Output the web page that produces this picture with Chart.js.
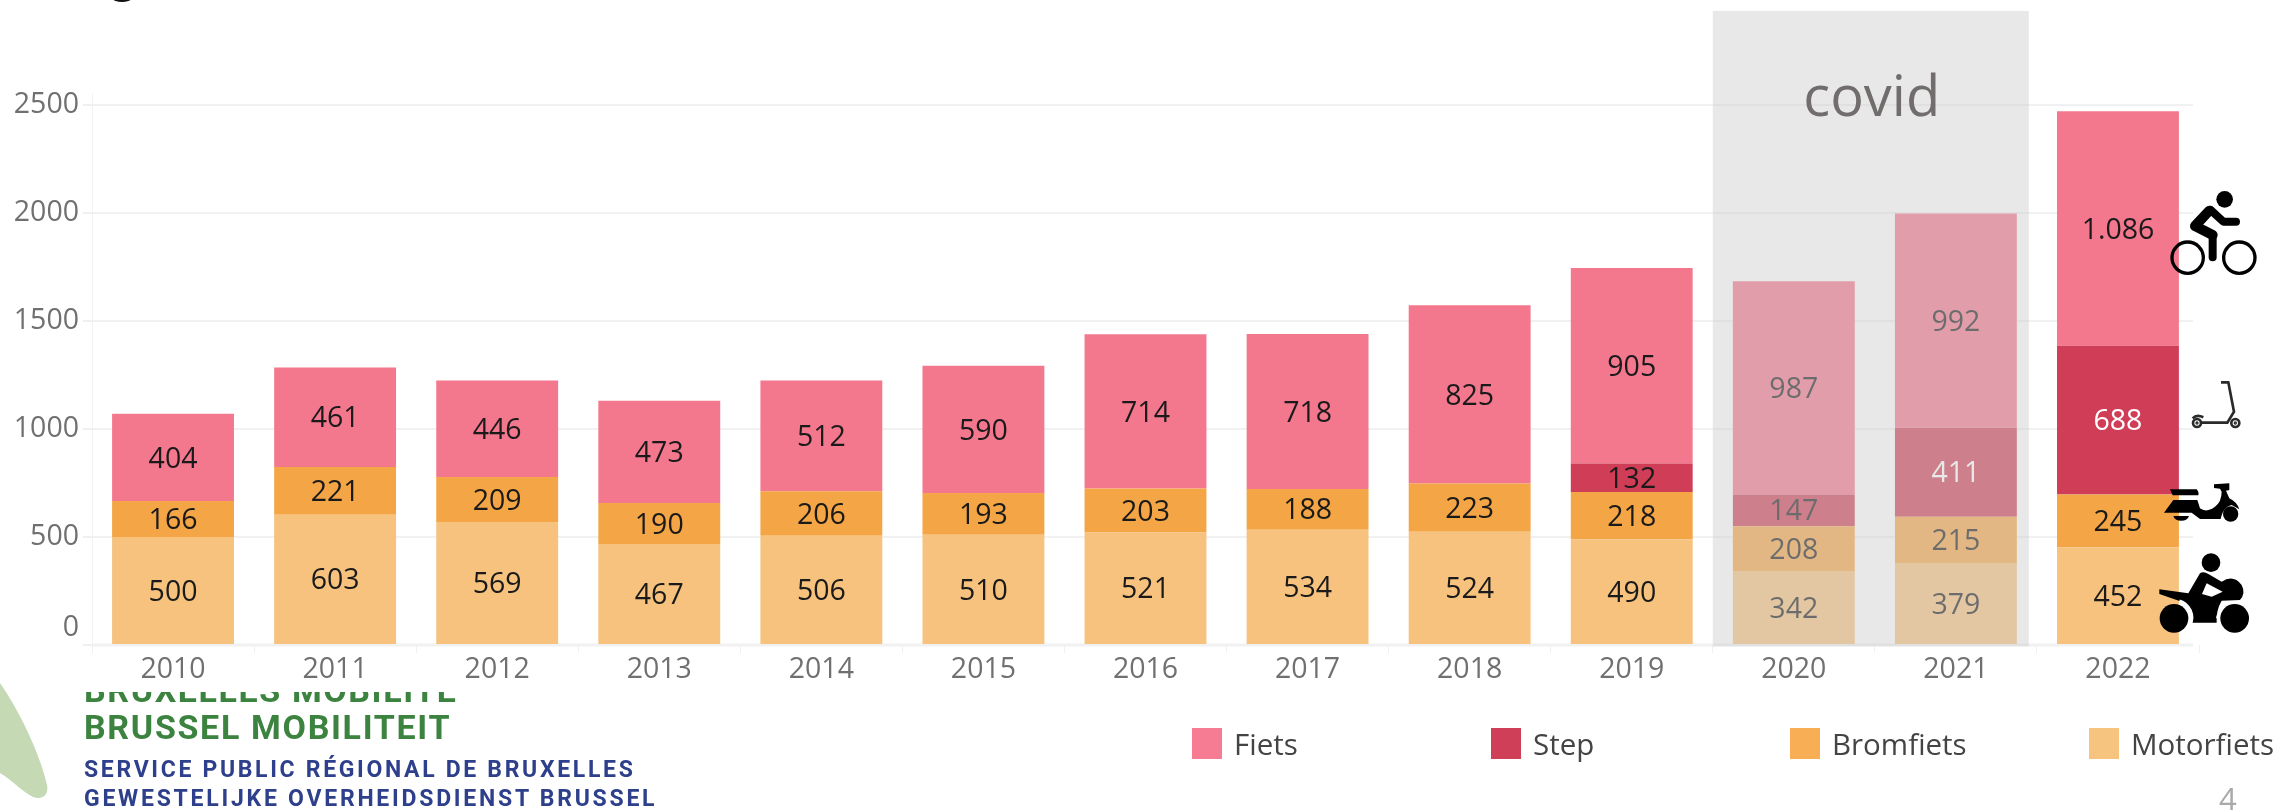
<!DOCTYPE html>
<html><head><meta charset="utf-8">
<script src="https://cdn.jsdelivr.net/npm/chart.js@4"></script>
<style>
html,body{margin:0;padding:0;background:#fff;width:2291px;height:810px;overflow:hidden;position:relative;font-family:"Open Sans",sans-serif}
canvas{position:absolute;left:0;top:0}
svg{position:absolute;left:0;top:0;pointer-events:none}
.t{position:absolute;white-space:nowrap;line-height:1}
.leg{position:absolute;top:728px;height:31px;display:flex;align-items:center}
.leg i{display:block;width:30px;height:31px;margin-right:12px}
.leg span{font-size:29.5px;color:#444;white-space:nowrap}
#clipg{position:absolute;left:80px;top:692px;width:400px;height:11px;overflow:hidden}
</style></head><body>
<div style="position:absolute;left:0;top:0;width:2291px;height:810px"><canvas id="c" width="2291" height="810"></canvas></div>
<svg width="2291" height="810" viewBox="0 0 2291 810">
  <ellipse cx="122" cy="-1" rx="9" ry="3" fill="#111"/>
  <path d="M0 683 C22 715 40 755 47 785 C49 796 42 800 33 797 C20 790 12 780 0 773 Z" fill="#c6d9b5"/>
  <g transform="translate(2140,170) scale(.3333)">
    <circle cx="254" cy="88" r="25"/>
    <circle cx="143" cy="263" r="47" fill="none" stroke="#000" stroke-width="10"/>
    <circle cx="298" cy="263" r="47" fill="none" stroke="#000" stroke-width="10"/>
    <path d="M208 122 L165 168 L218 195" fill="none" stroke="#000" stroke-width="30" stroke-linecap="round" stroke-linejoin="round"/>
    <path d="M218 195 V262" stroke="#000" stroke-width="24" stroke-linecap="round"/>
    <path d="M212 120 L250 155 H288" fill="none" stroke="#000" stroke-width="24" stroke-linecap="round" stroke-linejoin="round"/>
    <g fill="none" stroke="#2a2a2a">
      <circle cx="171" cy="759" r="12" stroke-width="8"/><circle cx="171" cy="759" r="3" stroke-width="4"/>
      <circle cx="286" cy="759" r="12" stroke-width="8"/><circle cx="286" cy="759" r="3" stroke-width="4"/>
      <path d="M185 758 H262 L282 725 L265 637 M243 637 H268 M158 745 Q170 732 190 742" stroke-width="8"/>
    </g>
  </g>
  <g transform="translate(2140,450) scale(.3333)">
    <path d="M90 118 H170 Q178 128 175 136 H98 Z"/>
    <path d="M72 188 L100 150 H172 L180 175 Q200 190 225 170 Q245 155 245 125 L240 116 L222 114 V103 L268 100 V120 L258 122 L268 145 Q290 155 298 178 L275 165 Q250 170 242 207 H180 L155 188 Z"/>
    <circle cx="272" cy="192" r="23"/>
    <path d="M100 198 H147 A24 18 0 0 1 100 198 Z"/>
    <circle cx="213" cy="338" r="28"/>
    <path d="M58 418 L145 430 L180 370 Q190 362 205 372 L245 395 Q280 372 305 405 Q318 430 300 450 L245 452 Q228 480 230 518 H155 Q158 480 125 455 L58 432 Z"/>
    <path d="M200 400 L248 425 L215 440 L186 432 Z" fill="#fff"/>
    <path d="M118 453 A52 52 0 0 1 150 525" fill="none" stroke="#fff" stroke-width="10"/>
    <path d="M233 505 A52 52 0 0 1 335 505" fill="none" stroke="#fff" stroke-width="10"/>
    <circle cx="102" cy="505" r="43"/>
    <circle cx="284" cy="505" r="43"/>
  </g>
</svg>
<div id="clipg"><div class="t" style="left:4px;top:-19px;font:700 34px Roboto;color:#3c8340;letter-spacing:1.6px;line-height:1">BRUXELLES MOBILITE</div></div>
<div class="t" style="left:84px;top:710px;font:700 34px Roboto;color:#3c8340;letter-spacing:1.67px;line-height:1">BRUSSEL MOBILITEIT</div>
<div class="t" style="left:84px;top:758px;font:700 23px Roboto;color:#2e408c;letter-spacing:2.67px;line-height:1">SERVICE PUBLIC RÉGIONAL DE BRUXELLES</div>
<div class="t" style="left:84px;top:787px;font:700 23px Roboto;color:#2e408c;letter-spacing:2.75px;line-height:1">GEWESTELIJKE OVERHEIDSDIENST BRUSSEL</div>
<div class="t" style="left:2219px;top:783px;font-size:31px;color:#a9a9a9">4</div>
<div id="legend"></div>
<script>
const years = ['2010','2011','2012','2013','2014','2015','2016','2017','2018','2019','2020','2021','2022'];
const motorfiets = [500,603,569,467,506,510,521,534,524,490,342,379,452];
const bromfiets = [166,221,209,190,206,193,203,188,223,218,208,215,245];
const step = [null,null,null,null,null,null,null,null,null,132,147,411,688];
const fiets = [404,461,446,473,512,590,714,718,825,905,987,992,1086];
const yTicks = [0,500,1000,1500,2000,2500];
const covidFrom = 9.5, covidTo = 11.45, covidTopValue = 2935, covidBottomValue = -6;

const colors = {Fiets:'#f3778d',Step:'#d03d56',Bromfiets:'#f4a545',Motorfiets:'#f6c27e'};
const legendColors = {Fiets:'#f57c92',Step:'#d03f58',Bromfiets:'#f7ae55',Motorfiets:'#f7c480'};
const legendOrder = ['Fiets','Step','Bromfiets','Motorfiets'];
const legendX = [1192,1491,1790,2089];
const FONT = '"Open Sans", sans-serif';

document.getElementById('legend').innerHTML = legendOrder.map((n,i)=>
  `<div class="leg" style="left:${legendX[i]}px"><i style="background:${legendColors[n]}"></i><span>${n}</span></div>`).join('');

const fmt = v => v>=1000 ? Math.floor(v/1000)+'.'+String(v%1000).padStart(3,'0') : String(v);

const gridPlugin = {
  id:'gridLines',
  beforeDatasetsDraw(chart){
    const {ctx,scales:{x,y}} = chart;
    ctx.save();
    ctx.strokeStyle='#f1f1f1';
    y.ticks.forEach(t=>{
      const p=Math.round(y.getPixelForValue(t.value));
      ctx.lineWidth = t.value===0 ? 3 : 2;
      ctx.beginPath();ctx.moveTo(x.left,p);ctx.lineTo(x.right-6,p);ctx.stroke();
    });
    ctx.restore();
  }
};
const labelPlugin = {
  id:'valueLabels',
  afterDatasetsDraw(chart){
    const {ctx,scales:{x,y}} = chart;
    ctx.save();
    ctx.font='28.5px '+FONT;ctx.textAlign='center';ctx.textBaseline='middle';
    chart.data.datasets.forEach((ds,di)=>{
      chart.getDatasetMeta(di).data.forEach((bar,i)=>{
        const v=ds.data[i];
        if(v==null) return;
        ctx.fillStyle = (ds.label==='Step' && v>=400) ? '#fff' : '#1a1a1a';
        ctx.fillText(fmt(v),bar.x,(bar.y+bar.base)/2+2);
      });
    });
    // covid band on top of the bars
    const l=x.getPixelForValue(covidFrom), r=x.getPixelForValue(covidTo);
    const t=y.getPixelForValue(covidTopValue), b=y.getPixelForValue(covidBottomValue);
    ctx.fillStyle='rgba(205,205,205,0.46)';
    ctx.fillRect(l,t,r-l,b-t);
    ctx.fillStyle='#716d6d';
    ctx.font='56px '+FONT;
    ctx.textBaseline='alphabetic';
    ctx.fillText('covid',(l+r)/2+1,116);
    ctx.restore();
  }
};

new Chart(document.getElementById('c'),{
  type:'bar',
  data:{labels:years,datasets:[
    {label:'Motorfiets',data:motorfiets,backgroundColor:colors.Motorfiets},
    {label:'Bromfiets',data:bromfiets,backgroundColor:colors.Bromfiets},
    {label:'Step',data:step,backgroundColor:colors.Step},
    {label:'Fiets',data:fiets,backgroundColor:colors.Fiets}
  ].map(d=>({...d,barPercentage:.752,categoryPercentage:1,borderWidth:0}))},
  plugins:[gridPlugin,labelPlugin],
  options:{
    responsive:false,animation:false,
    layout:{padding:{left:0,right:92,top:93,bottom:0}},
    plugins:{legend:{display:false},tooltip:{enabled:false},title:{display:false}},
    scales:{
      x:{stacked:true,
        grid:{offset:true,drawOnChartArea:false,tickLength:8,color:'#efefef',lineWidth:1},
        border:{display:false},
        ticks:{font:{size:28.5,family:FONT},color:'#707070',padding:0,maxRotation:0,autoSkip:false},
        afterFit(s){s.height=165;}
      },
      y:{stacked:true,min:0,max:2555,
        afterBuildTicks(s){s.ticks=yTicks.map(v=>({value:v}));},
        grid:{drawOnChartArea:false,tickLength:9,color:'#efefef',lineWidth:2},
        border:{display:true,color:'#f3f3f3',width:1},
        ticks:{font:{size:28.5,family:FONT},color:'#707070',padding:4,
          callback:v=>v===0?['0','']:String(v)},
        afterFit(s){s.width=92;}
      }
    }
  }
});
</script>
</body></html>
